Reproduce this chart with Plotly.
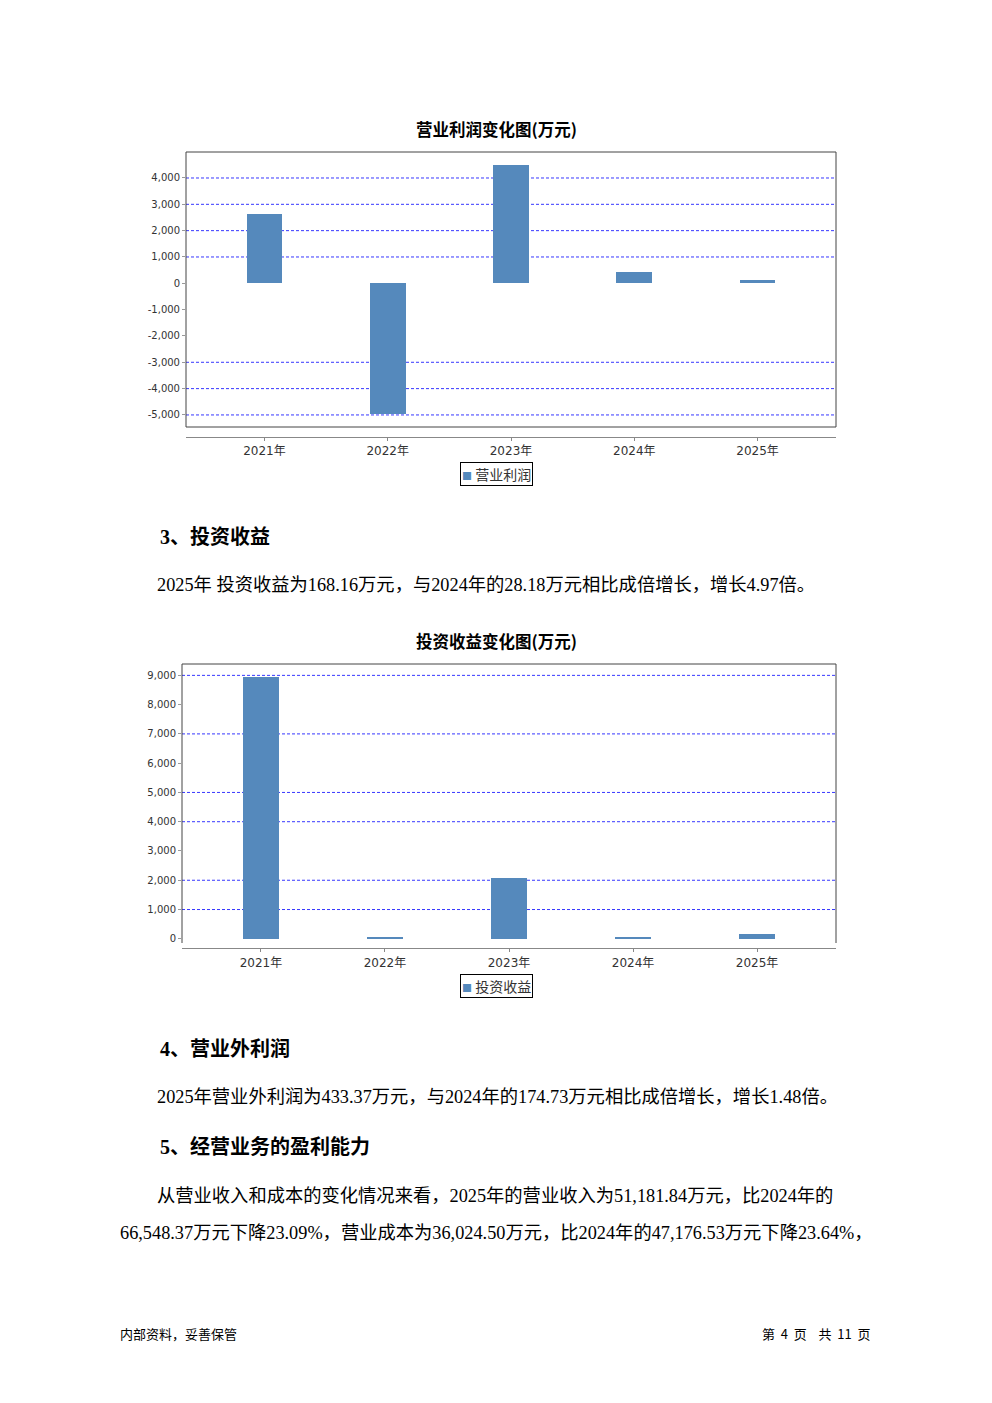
import plotly.graph_objects as go

# page offset: browser body margin is 8px
OFF = 8
W, H = 992 - OFF, 1403 - OFF

# ---------------- data ----------------
years = ["2021年", "2022年", "2023年", "2024年", "2025年"]
op_profit = [2630, -4950, 4495, 445, 120]          # 营业利润 (万元)
inv_income = [8940, 60, 2070, 28.18, 168.16]       # 投资收益 (万元)

op_ticks = [4000, 3000, 2000, 1000, 0, -1000, -2000, -3000, -4000, -5000]
op_grid = [4000, 3000, 2000, 1000, -3000, -4000, -5000]
inv_ticks = [9000, 8000, 7000, 6000, 5000, 4000, 3000, 2000, 1000, 0]
inv_grid = [9000, 7000, 5000, 4000, 2000, 1000]

BAR = "#5589BC"
GRID = "rgba(20,20,255,0.85)"
BOX = "#444444"
AXIS = "#888888"
TICKFONT = dict(family="DejaVu Sans, Noto Sans CJK SC", size=10, color="#333333")
CATFONT = dict(family="DejaVu Sans, Noto Sans CJK SC", size=12, color="#333333")
BODY = "Liberation Serif, Noto Sans CJK SC"


def px(x):
    return (x - OFF) / W


def py(y):
    return 1 - (y - OFF) / H


def fmt(v):
    return "{:,}".format(v)


fig = go.Figure()
fig.add_trace(go.Bar(x=years, y=op_profit, name="营业利润", marker_color=BAR,
                     marker_line_width=0, width=0.29, xaxis="x", yaxis="y",
                     showlegend=False))
fig.add_trace(go.Bar(x=years, y=inv_income, name="投资收益", marker_color=BAR,
                     marker_line_width=0, width=0.29, xaxis="x2", yaxis="y2",
                     showlegend=False))

xcommon = dict(type="category", range=[-0.636, 4.636], showline=True, linecolor=AXIS,
               linewidth=1, ticks="outside", ticklen=3, tickcolor=AXIS,
               showgrid=False, zeroline=False, tickfont=CATFONT, fixedrange=True)
ycommon = dict(showline=False, ticks="outside", ticklen=3, tickcolor="#999999",
               showgrid=False, zeroline=False, tickfont=TICKFONT,
               fixedrange=True)

fig.update_layout(
    width=W, height=H,
    margin=dict(l=0, r=0, t=0, b=0),
    paper_bgcolor="white", plot_bgcolor="rgba(0,0,0,0)",
    showlegend=False,
    bargap=0,
    xaxis=dict(domain=[px(186), px(836)], anchor="y", **xcommon),
    yaxis=dict(domain=[py(436.7), py(152)], anchor="x", range=[-5826, 4987],
               tickvals=op_ticks, ticktext=[fmt(v) for v in op_ticks], **ycommon),
    xaxis2=dict(domain=[px(182), px(836)], anchor="y2", **xcommon),
    yaxis2=dict(domain=[py(948.3), py(664)], anchor="x2", range=[-325, 9388],
                tickvals=inv_ticks, ticktext=[fmt(v) for v in inv_ticks], **ycommon),
)

shapes = []
for v in op_grid:
    shapes.append(dict(type="line", xref="x domain", yref="y", x0=0, x1=1, y0=v, y1=v,
                       line=dict(color=GRID, width=1, dash="3px,2px"), layer="below"))
for v in inv_grid:
    shapes.append(dict(type="line", xref="x2 domain", yref="y2", x0=0, x1=1, y0=v, y1=v,
                       line=dict(color=GRID, width=1, dash="3px,2px"), layer="below"))
# plot frames
shapes.append(dict(type="rect", xref="paper", yref="paper", x0=px(186), x1=px(836),
                   y0=py(427), y1=py(152), line=dict(color=BOX, width=1), layer="above"))
for (x0, y0, x1, y1) in [(182, 664, 836, 664), (182, 664, 182, 943), (836, 664, 836, 943)]:
    shapes.append(dict(type="line", xref="paper", yref="paper", x0=px(x0), x1=px(x1),
                       y0=py(y0), y1=py(y1), line=dict(color=BOX, width=1)))
fig.update_layout(shapes=shapes)

ann = []


def text(t, x, y, size, bold=False, family=BODY, xanchor="left", color="#000000"):
    if bold:
        t = "<b>" + t + "</b>"
    dx = -2 if xanchor == "left" else (2 if xanchor == "right" else 0)
    ann.append(dict(text=t, x=px(x + dx), y=py(y), xref="paper", yref="paper",
                    xanchor=xanchor, yanchor="middle", showarrow=False,
                    font=dict(family=family, size=size, color=color)))


# chart titles
text("营业利润变化图(万元)", 496, 129, 16.5, bold=True, family="Noto Sans CJK SC", xanchor="center")
text("投资收益变化图(万元)", 496, 641, 16.5, bold=True, family="Noto Sans CJK SC", xanchor="center")

# legends (boxed)
for label, yc in [("营业利润", 473.5), ("投资收益", 985.5)]:
    ann.append(dict(text="<span style='color:%s;font-size:10px'>■</span>\u00a0%s" % (BAR, label),
                    x=px(496), y=py(yc), xref="paper", yref="paper", xanchor="center",
                    yanchor="middle", showarrow=False, bordercolor="#000000",
                    borderwidth=1, borderpad=1,
                    font=dict(family="Noto Sans CJK SC", size=14, color="#333333")))

# body text
text("3、投资收益", 160, 537, 20, bold=True)
text("2025年 投资收益为168.16万元，与2024年的28.18万元相比成倍增长，增长4.97倍。", 157, 585, 18.3)
text("4、营业外利润", 160, 1048, 20, bold=True)
text("2025年营业外利润为433.37万元，与2024年的174.73万元相比成倍增长，增长1.48倍。", 157, 1097, 18.3)
text("5、经营业务的盈利能力", 160, 1147, 20, bold=True)
text("从营业收入和成本的变化情况来看，2025年的营业收入为51,181.84万元，比2024年的", 157, 1196, 18.3)
text("66,548.37万元下降23.09%，营业成本为36,024.50万元，比2024年的47,176.53万元下降23.64%，", 120, 1233, 18.3)

# footer
text("内部资料，妥善保管", 120, 1333, 13, family="Noto Sans CJK SC")
text("第\u00a0\u00a04\u00a0\u00a0页\u00a0\u00a0\u00a0\u00a0共\u00a0\u00a011\u00a0\u00a0页", 871, 1333, 13,
     family="Noto Sans CJK SC", xanchor="right")

fig.update_layout(annotations=ann)
fig.write_html("out.html")
